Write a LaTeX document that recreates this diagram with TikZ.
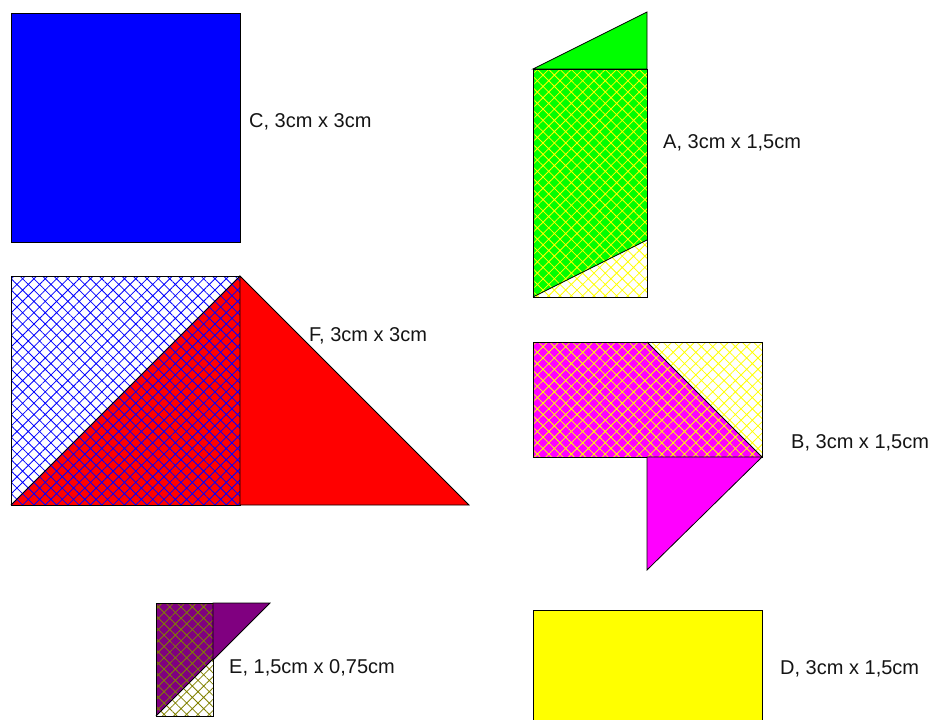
\documentclass[tikz,border=0pt]{standalone}
\usepackage{fontspec}
\setmainfont{Liberation Sans}
\usetikzlibrary{patterns.meta}
\definecolor{mypurple}{RGB}{128,0,128}
\definecolor{mymagenta}{RGB}{255,0,255}
\definecolor{myyellow}{RGB}{255,255,0}
\definecolor{mygreen}{RGB}{0,255,0}
\definecolor{myblue}{RGB}{0,0,255}
\definecolor{myred}{RGB}{255,0,0}
\definecolor{myolive}{RGB}{128,128,0}
\definecolor{txt}{RGB}{20,20,20}
\begin{document}
\begin{tikzpicture}[x=1pt,y=-1pt,
  outline/.style={draw=black,line width=0.8pt,line join=miter},
  hatchY/.style={pattern={Hatch[angle=45,distance=8pt,line width=0.8pt]},pattern color=myyellow},
  hatchB/.style={pattern={Hatch[angle=45,distance=8pt,line width=0.8pt]},pattern color=myblue},
  hatchO/.style={pattern={Hatch[angle=45,distance=8pt,line width=0.8pt]},pattern color=myolive},
  lbl/.style={anchor=base west,inner sep=0pt,text=txt,font=\fontsize{20}{24}\selectfont}]
\useasboundingbox (0,0) rectangle (929,720);

% C
\filldraw[fill=myblue,outline] (11,13) rectangle (240,242);

% A
\filldraw[fill=mygreen,outline] (533,69) -- (647,12) -- (647,69) -- cycle;
\fill[mygreen] (533,69) -- (647,69) -- (647,240) -- (533,297) -- cycle;
\fill[hatchY] (533,69) rectangle (647,297);
\draw[outline] (533,69) rectangle (647,297);
\draw[outline] (533,297) -- (647,240);

% F
\fill[myred] (11,505) -- (240,276) -- (240,505) -- cycle;
\fill[hatchB] (11,276) rectangle (240,505);
\draw[outline] (11,276) rectangle (240,505);
\draw[outline] (11,505) -- (240,276);
\filldraw[fill=myred,outline] (240,276) -- (469,505) -- (240,505) -- cycle;

% B
\fill[mymagenta] (533,342) -- (647,342) -- (762,457) -- (533,457) -- cycle;
\fill[hatchY] (533,342) rectangle (762,457);
\draw[outline] (533,342) rectangle (762,457);
\draw[outline] (647,342) -- (762,457);
\filldraw[fill=mymagenta,outline] (647,457) -- (762,457) -- (647,570) -- cycle;

% E
\fill[mypurple] (156,603) -- (213,603) -- (213,659) -- (156,716) -- cycle;
\fill[hatchO] (156,603) rectangle (213,716);
\draw[outline] (156,603) rectangle (213,716);
\draw[outline] (156,716) -- (213,659);
\filldraw[fill=mypurple,outline] (213,603) -- (270,603) -- (213,660) -- cycle;

% D
\filldraw[fill=myyellow,outline] (533,610) rectangle (762,730);

% labels
\node[lbl] (labC) at (249,127) {C, 3cm x 3cm};
\node[lbl] (labA) at (663,148) {A, 3cm x 1,5cm};
\node[lbl] (labF) at (309,341) {F, 3cm x 3cm};
\node[lbl] (labB) at (791,448) {B, 3cm x 1,5cm};
\node[lbl] (labE) at (229,673) {E, 1,5cm x 0,75cm};
\node[lbl] (labD) at (780,674) {D, 3cm x 1,5cm};
\end{tikzpicture}
\end{document}
